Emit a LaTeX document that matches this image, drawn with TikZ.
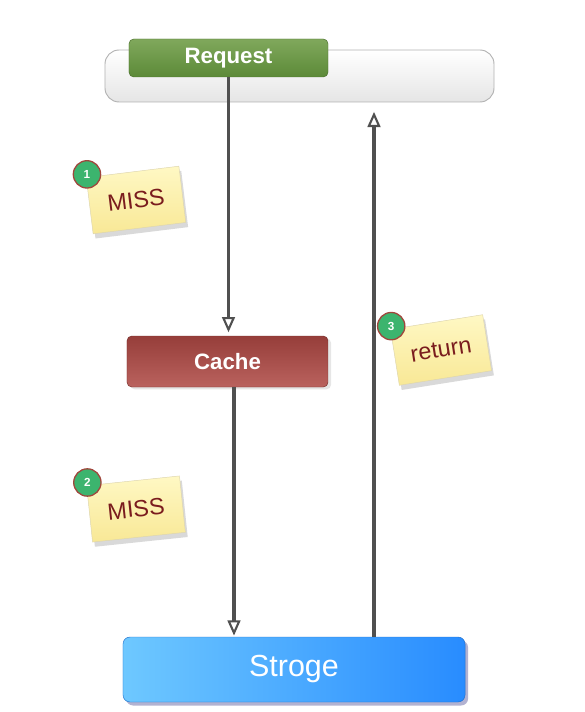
\documentclass[tikz,border=0pt]{standalone}
\usepackage{fontspec}
\setmainfont{Liberation Sans}
\usetikzlibrary{arrows.meta, shadows, positioning}

\definecolor{reqtop}{RGB}{128,168,92}
\definecolor{reqbot}{RGB}{92,138,56}
\definecolor{cachetop}{RGB}{150,62,58}
\definecolor{cachebot}{RGB}{186,98,94}
\definecolor{storeleft}{RGB}{110,200,255}
\definecolor{storeright}{RGB}{40,140,255}
\definecolor{notetop}{RGB}{255,248,196}
\definecolor{notebot}{RGB}{248,232,150}
\definecolor{notetext}{RGB}{122,28,30}
\definecolor{badgegreen}{RGB}{60,180,110}
\definecolor{badgeline}{RGB}{160,70,60}
\definecolor{arrowgray}{RGB}{80,80,80}

\begin{document}
\begin{tikzpicture}[
    % 坐标单位:按像素计,y 轴向下
    x=0.03cm, y=-0.03cm,
    % 方框样式:圆角+渐变+白字
    boxnode/.style={
        rounded corners=4pt, % 圆角
        draw=#1!80!black, % 边框颜色
        text=white, % 文字白色
        inner sep=0pt
        },
    % 便签样式:淡黄+阴影
    notenode/.style={
        draw=notebot!80!black!60, % 边框颜色
        top color=notetop, bottom color=notebot,
        minimum width=2.8cm, minimum height=1.7cm,
        text=notetext, font=\fontsize{20}{23}\selectfont,
        drop shadow={shadow xshift=2pt, shadow yshift=-4pt, opacity=0.25, fill=black!60}
        },
    % 编号圆圈样式
    badgenode/.style={
        circle, fill=badgegreen, draw=badgeline, line width=1.1pt,
        minimum size=0.82cm, inner sep=0pt,
        text=white, font=\bfseries\fontsize{10}{11}\selectfont
        },
    % 连线样式:空心三角箭头
    myarrow/.style={
        draw=arrowgray, line width=2.6pt,
        -{Triangle[open, length=13pt, width=11pt, line width=1.8pt]}
        }
    ]
    \useasboundingbox (0,0) rectangle (584,712);
    % ========== 第一步:方框节点 ==========
    \node [rounded corners=12pt, draw=black!30, line width=0.8pt,
           top color=white, bottom color=black!10,
           minimum width=11.67cm, minimum height=1.56cm] (bar) at (299.5,76) {};
    \node [boxnode=reqbot, top color=reqtop, bottom color=reqbot,
           minimum width=5.97cm, minimum height=1.14cm,
           font=\bfseries\fontsize{19}{22}\selectfont] (req) at (228.5,58) {Request};
    \node [boxnode=cachetop, top color=cachetop, bottom color=cachebot,
           minimum width=6.03cm, minimum height=1.53cm,
           drop shadow={opacity=0.2, shadow yshift=-2pt},
           font=\bfseries\fontsize{19}{22}\selectfont] (cache) at (227.5,361.5) {Cache};
    \node [boxnode=storeright, rounded corners=6pt, left color=storeleft, right color=storeright,
           minimum width=10.26cm, minimum height=1.95cm,
           drop shadow={opacity=0.3, shadow yshift=-3pt, fill=blue!40!black},
           font=\fontsize{26}{30}\selectfont] (store) at (294,669.5) {Stroge};
    % ========== 第二步:便签+编号 ==========
    \foreach \name/\num/\text/\x/\y/\ang in {n1/1/MISS/136/200/7, n2/2/MISS/136/509/6, n3/3/return/441/350/9} {
        \node [notenode, rotate=\ang] (\name) at (\x,\y) {\text};
        \node [badgenode] (b\num) at ([shift={(1,-3)}]\name.north west) {\num};
    }
    % ========== 第三步:连线 ==========
    \coordinate (down) at (234,0);
    \coordinate (up) at (374,0);
    \draw [myarrow, shorten >=3pt] (req.south) -- (cache.north -| req.south);
    \draw [myarrow, shorten >=1pt] (cache.south -| down) -- (store.north -| down);
    \draw [myarrow, shorten >=8pt] (store.north -| up) -- (bar.south -| up);
\end{tikzpicture}
\end{document}
